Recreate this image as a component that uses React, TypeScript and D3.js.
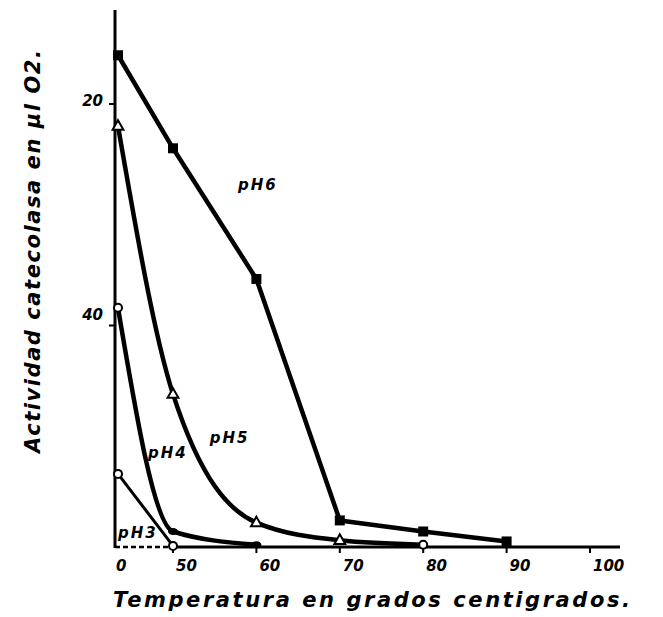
import React, { useEffect, useRef } from 'react';
import * as d3 from 'd3';

const W = 663;
const H = 617;

// Temperatura (°C) and actividad (µl O2)
const temps6 = [0, 50, 60, 70, 80, 90];
const ph6 = [22.2, 18.0, 12.1, 1.2, 0.7, 0.25];
const temps5 = [0, 50, 60, 70, 80];
const ph5 = [19.0, 6.9, 1.1, 0.3, 0.1];
const temps4 = [0, 50, 60];
const ph4 = [10.8, 0.7, 0.1];
const temps3 = [0, 50];
const ph3 = [3.3, 0.05];

const xTicks = [0, 50, 60, 70, 80, 90, 100];
const xTickLabels = ['0', '50', '60', '70', '80', '90', '100'];
const yTicks = [10, 20];
const yTickLabels = ['40', '20'];

const seriesNames = ['pH6', 'pH5', 'pH4', 'pH3'];
// label anchor in data units (temp, activity)
const labelTemps = [57.8, 54.4, 27.3, 0];
const labelVals = [16.1, 4.7, 4.0, 0.4];

const FONT = '"DejaVu Sans", sans-serif';

export default function App() {
  const ref = useRef<SVGSVGElement>(null);

  useEffect(() => {
    if (!ref.current) return;
    const svg = d3.select(ref.current);
    svg.selectAll('*').remove();

    const axisX = 115;
    const x = d3.scaleLinear().domain([0, 50, 100]).range([118, 173, 590]);
    const y = d3.scaleLinear().domain([0, 20]).range([547, 104]);

    // Y axis
    svg.append('line')
      .attr('x1', axisX).attr('x2', axisX)
      .attr('y1', 10).attr('y2', y(0) + 1)
      .attr('stroke', '#000').attr('stroke-width', 3);

    yTicks.forEach((t, i) => {
      svg.append('line')
        .attr('x1', axisX - 6).attr('x2', axisX)
        .attr('y1', y(t)).attr('y2', y(t))
        .attr('stroke', '#000').attr('stroke-width', 2);
      svg.append('text')
        .attr('x', axisX - 12)
        .attr('y', y(t) + (i === 0 ? -6 : 2))
        .attr('text-anchor', 'end')
        .attr('font-family', FONT)
        .attr('font-weight', 'bold')
        .attr('font-style', 'italic')
        .attr('font-size', 15)
        .text(yTickLabels[i]);
    });

    // X axis: dashed from origin to 50, solid after
    svg.append('line')
      .attr('x1', axisX).attr('x2', x(50))
      .attr('y1', y(0)).attr('y2', y(0))
      .attr('stroke', '#000').attr('stroke-width', 2.5)
      .attr('stroke-dasharray', '5 3');
    svg.append('line')
      .attr('x1', x(50)).attr('x2', 620)
      .attr('y1', y(0)).attr('y2', y(0))
      .attr('stroke', '#000').attr('stroke-width', 3);

    xTicks.forEach((t, i) => {
      if (t > 0) {
        svg.append('line')
          .attr('x1', x(t)).attr('x2', x(t))
          .attr('y1', y(0)).attr('y2', y(0) + 6)
          .attr('stroke', '#000').attr('stroke-width', 2);
      }
      svg.append('text')
        .attr('x', t === 0 ? axisX + 1 : x(t) + 3)
        .attr('y', 571)
        .attr('font-family', FONT)
        .attr('font-weight', 'bold')
        .attr('font-style', 'italic')
        .attr('font-size', 15)
        .text(xTickLabels[i]);
    });

    const series = [
      { t: temps6, v: ph6, curve: d3.curveLinear, w: 4.5, marks: ['sq', 'sq', 'sq', 'sq', 'sq', 'sq'] },
      { t: temps5, v: ph5, curve: d3.curveMonotoneX, w: 4.5, marks: ['tri', 'tri', 'tri', 'tri', 'circ'] },
      { t: temps4, v: ph4, curve: d3.curveMonotoneX, w: 4.5, marks: ['circ', 'dot', 'dot'] },
      { t: temps3, v: ph3, curve: d3.curveLinear, w: 3, marks: ['circ', 'circ'] },
    ];

    series.forEach(s => {
      const pts = s.t.map((t, i) => [t, s.v[i]] as [number, number]);
      const line = d3.line<[number, number]>()
        .x(d => x(d[0]))
        .y(d => y(d[1]))
        .curve(s.curve);
      svg.append('path')
        .attr('d', line(pts))
        .attr('fill', 'none')
        .attr('stroke', '#000')
        .attr('stroke-width', s.w)
        .attr('stroke-linejoin', 'round')
        .attr('stroke-linecap', 'round');

      pts.forEach((d, i) => {
        const cx = x(d[0]);
        const cy = y(d[1]);
        const m = s.marks[i];
        if (m === 'sq') {
          svg.append('rect')
            .attr('x', cx - 5).attr('y', cy - 5)
            .attr('width', 10).attr('height', 10)
            .attr('fill', '#000');
        } else if (m === 'tri') {
          const r = 6;
          svg.append('path')
            .attr('d', `M${cx},${cy - r}L${cx + r * 0.9},${cy + r * 0.6}L${cx - r * 0.9},${cy + r * 0.6}Z`)
            .attr('fill', '#fff')
            .attr('stroke', '#000')
            .attr('stroke-width', 2);
        } else if (m === 'circ') {
          svg.append('circle')
            .attr('cx', cx).attr('cy', cy).attr('r', 4)
            .attr('fill', '#fff')
            .attr('stroke', '#000')
            .attr('stroke-width', 2);
        } else {
          svg.append('ellipse')
            .attr('cx', cx).attr('cy', cy).attr('rx', 5).attr('ry', 3.5)
            .attr('fill', '#000');
        }
      });
    });

    // Series labels
    seriesNames.forEach((n, i) => {
      svg.append('text')
        .attr('x', x(labelTemps[i]))
        .attr('y', y(labelVals[i]))
        .attr('font-family', FONT)
        .attr('font-weight', 'bold')
        .attr('font-style', 'italic')
        .attr('font-size', 15)
        .attr('letter-spacing', 2)
        .text(n);
    });

    // Axis titles
    svg.append('text')
      .attr('x', 113)
      .attr('y', 607)
      .attr('font-family', FONT)
      .attr('font-style', 'italic')
      .attr('font-weight', 'bold')
      .attr('font-size', 21)
      .attr('textLength', 517)
      .attr('lengthAdjust', 'spacing')
      .text('Temperatura en grados centigrados.');

    svg.append('text')
      .attr('transform', 'translate(40,453) rotate(-90)')
      .attr('font-family', FONT)
      .attr('font-style', 'italic')
      .attr('font-weight', 'bold')
      .attr('font-size', 21)
      .attr('textLength', 403)
      .attr('lengthAdjust', 'spacing')
      .text('Actividad  catecolasa en µl O2.');
  }, []);

  return (
    <div style={{ position: 'absolute', left: 0, top: 0, width: W, height: H, background: '#fff' }}>
      <svg ref={ref} width={W} height={H} style={{ display: 'block' }} />
    </div>
  );
}
